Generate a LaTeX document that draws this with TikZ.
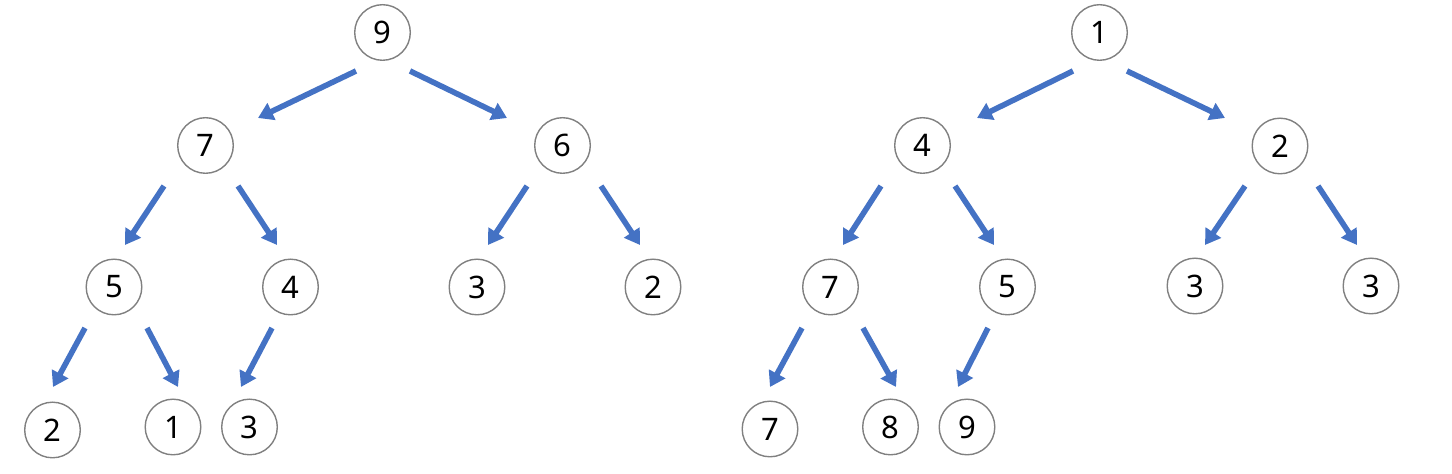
\documentclass[tikz,border=0pt]{standalone}
\usepackage{fontspec}
\setmainfont{Noto Sans}
\usetikzlibrary{arrows.meta,calc}
\definecolor{arrblue}{RGB}{68,114,196}
\definecolor{ringgray}{RGB}{128,128,128}
\tikzset{
  hnode/.style={circle,draw=ringgray,line width=0.7pt,minimum size=27.8pt,inner sep=0pt,
    font=\fontsize{15.5pt}{18pt}\selectfont,text=black},
  arr/.style={draw=arrblue,line width=2.8pt,-{Triangle[width=9pt,length=7.5pt]},arrblue}
}
\newcommand{\conn}[6]{\draw[arr] ($(#1.center)+(#2,#3)$) -- ($(#4.center)+(#5,#6)$);}
\begin{document}
\begin{tikzpicture}[x=0.5pt,y=-0.5pt]
\useasboundingbox (0,0) rectangle (1452,474);
% left tree
\node[hnode] (a9) at (382.5,32.5) {9};
\node[hnode] (a7) at (205.5,145.5) {7};
\node[hnode] (a6) at (562.5,145.5) {6};
\node[hnode] (a5) at (114,287) {5};
\node[hnode] (a4) at (290.5,287) {4};
\node[hnode] (a3) at (477,287) {3};
\node[hnode] (a2) at (653,287) {2};
\node[hnode] (b2) at (52.5,430) {2};
\node[hnode] (b1) at (173,427) {1};
\node[hnode] (b3) at (249.5,427) {3};
% right tree
\node[hnode] (c1) at (1099.5,32.5) {1};
\node[hnode] (c4) at (922.5,145.5) {4};
\node[hnode] (c2) at (1280,146) {2};
\node[hnode] (c7) at (830.5,287) {7};
\node[hnode] (c5) at (1007.5,287) {5};
\node[hnode] (c3) at (1195,286) {3};
\node[hnode] (c3r) at (1371,286) {3};
\node[hnode] (d7) at (770,429) {7};
\node[hnode] (d8) at (890.5,427) {8};
\node[hnode] (d9) at (967,427) {9};
% left arrows
\conn{a9}{-26.5}{38.5}{a7}{52.5}{-27.5}
\conn{a9}{27.5}{38.5}{a6}{-55.5}{-27.5}
\conn{a7}{-41.5}{40.5}{a5}{11}{-42}
\conn{a7}{32.5}{40.5}{a4}{-13.5}{-42}
\conn{a6}{-35.5}{40.5}{a3}{11}{-42}
\conn{a6}{38.5}{40.5}{a2}{-13}{-42}
\conn{a5}{-29}{41}{b2}{0.5}{-43}
\conn{a5}{33}{41}{b1}{5}{-40}
\conn{a4}{-18.5}{41}{b3}{-8.5}{-40}
% right arrows
\conn{c1}{-26.5}{38.5}{c4}{54.5}{-27.5}
\conn{c1}{27.5}{38.5}{c2}{-55}{-28}
\conn{c4}{-41.5}{40.5}{c7}{12.5}{-42}
\conn{c4}{32.5}{40.5}{c5}{-13.5}{-42}
\conn{c2}{-35}{40}{c3}{10}{-41}
\conn{c2}{38}{40}{c3r}{-14}{-41}
\conn{c7}{-28.5}{41}{d7}{0}{-42}
\conn{c7}{32.5}{41}{d8}{5.5}{-40}
\conn{c5}{-19.5}{41}{d9}{-9}{-40}
\end{tikzpicture}
\end{document}
